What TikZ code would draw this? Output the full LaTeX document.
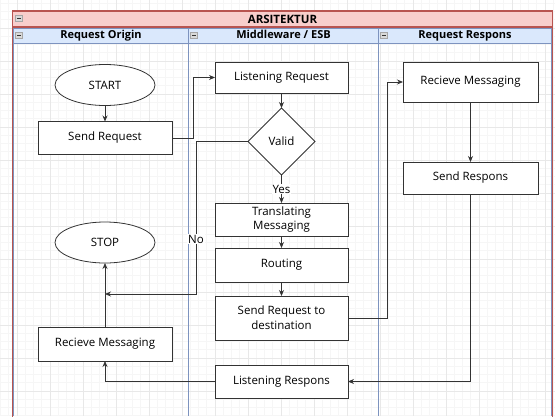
\documentclass[tikz,border=0pt]{standalone}
\usepackage{fontspec}
\setmainfont{Open Sans}
\usetikzlibrary{positioning}
\usetikzlibrary{arrows.meta}
\usetikzlibrary{shapes.geometric}

\definecolor{pool_line}{HTML}{B85450}
\definecolor{pool_fill}{HTML}{F8CECC}
\definecolor{lane_line}{HTML}{7D93BF}
\definecolor{lane_fill}{HTML}{DAE8FC}
\definecolor{flow_line}{HTML}{333333}

\begin{document}
\begin{tikzpicture}[x=1pt,y=-1pt,>={Stealth[length=6pt,width=5pt]},font=\fontsize{11.5}{14}\selectfont,
	box/.style={rectangle,draw=flow_line,fill=white,line width=0.8pt,minimum width=133pt,outer sep=0pt,align=center,inner sep=2pt},
	term/.style={ellipse,draw=flow_line,fill=white,line width=0.8pt,minimum width=100pt,minimum height=41pt,inner sep=0pt,outer sep=0pt},
	decision/.style={diamond,aspect=1,draw=flow_line,fill=white,line width=0.8pt,minimum size=67pt,inner sep=0pt,outer sep=0pt},
	flow/.style={->,draw=flow_line,line width=0.8pt},
	lbl/.style={fill=white,inner sep=1pt},
	pool_head/.style={draw=pool_line,fill=pool_fill,line width=1.6pt,outer sep=0pt,inner sep=0pt,font=\fontsize{11.5}{13}\selectfont\bfseries},
	lane_head/.style={draw=lane_line,fill=lane_fill,line width=0.8pt,minimum height=15pt,outer sep=0pt,inner sep=0pt,
		text height=8.5pt,text depth=2.5pt,font=\fontsize{11}{13}\selectfont\bfseries},
	minus_box/.style={draw=gray!70,fill=gray!30,minimum width=7pt,minimum height=6pt,inner sep=0pt,
		path picture={\draw[gray!40!black,line width=0.7pt] ([xshift=1.5pt]path picture bounding box.west) -- ([xshift=-1.5pt]path picture bounding box.east);}},
	grid_minor/.style={draw=gray!7,line width=0.6pt},
	grid_major/.style={draw=gray!18,line width=0.7pt}]
	\useasboundingbox (0,0) rectangle (555,416);

	% background grid
	\foreach \i in {0,...,70} \draw[grid_minor] ({-16+8.25*\i},0) -- ++(0,416);
	\foreach \i in {0,...,52} \draw[grid_minor] (0,{-5+8.25*\i}) -- ++(555,0);
	\foreach \i in {0,...,17} \draw[grid_major] ({-16+33*\i},0) -- ++(0,416);
	\foreach \i in {0,...,13} \draw[grid_major] (0,{-5+33*\i}) -- ++(555,0);

	% pool and lanes
	\node [pool_head,minimum width=540pt,minimum height=16pt] at (282.5,19) (pool_title) {ARSITEKTUR};
	\node [lane_head,minimum width=175pt] at (101,35.5) (lane_origin) {Request Origin};
	\node [lane_head,minimum width=190pt,right=0pt of lane_origin] (lane_esb) {Middleware / ESB};
	\node [lane_head,minimum width=173pt,right=0pt of lane_esb] (lane_resp) {Request Respons};
	\draw [lane_line,line width=0.8pt] (lane_origin.south west) -- (lane_origin.south west |- 0,416);
	\draw [lane_line,line width=0.8pt] (lane_esb.south west) -- (lane_esb.south west |- 0,416);
	\draw [lane_line,line width=0.8pt] (lane_resp.south west) -- (lane_resp.south west |- 0,416);
	\draw [lane_line,line width=0.8pt] (lane_resp.south east) -- (lane_resp.south east |- 0,416);
	\draw [pool_line,line width=1.6pt] (pool_title.south west) -- (pool_title.south west |- 0,417);
	\draw [pool_line,line width=1.6pt] (pool_title.south east) -- (pool_title.south east |- 0,417);
	\node [minus_box] at (19,18) (minus_pool) {};
	\node [minus_box] at (19,35.5) (minus_origin) {};
	\node [minus_box] at (194,35.5) (minus_esb) {};
	\node [minus_box] at (384,35.5) (minus_resp) {};

	% Request Origin
	\node [term] at (105,85) (start) {START};
	\node [box,minimum width=134pt,minimum height=33pt,below=16pt of start] (send_req) {Send Request};
	\node [term] at (105,242.5) (stop) {STOP};
	\node [box,minimum width=134pt,minimum height=34pt,below=64pt of stop] (recv_msg_l) {Recieve Messaging};

	% Middleware / ESB
	\node [box,minimum height=31pt] at (281.5,77.5) (listen_req) {Listening Request};
	\node [decision,below=15pt of listen_req] (valid) {Valid};
	\node [box,minimum height=33pt,below=28pt of valid,font=\fontsize{11.5}{13.5}\selectfont] (translate) {Translating\\Messaging};
	\node [box,minimum height=34pt,below=12pt of translate] (routing) {Routing};
	\node [box,minimum height=44pt,below=14pt of routing,font=\fontsize{11.5}{15}\selectfont] (send_dest) {Send Request to\\destination};
	\node [box,minimum height=33pt,below=25pt of send_dest] (listen_resp) {Listening Respons};

	% Request Respons
	\node [box,minimum width=135pt,minimum height=40pt] at (470.5,82) (recv_msg_r) {Recieve Messaging};
	\node [box,minimum width=135pt,minimum height=32pt,below=60pt of recv_msg_r] (send_resp) {Send Respons};

	% connectors
	\coordinate (stop_join) at (105,294);
	\draw [flow] (start) -- (send_req);
	\draw [flow] (send_req.east) -- ++(21,0) |- (listen_req.west);
	\draw [flow] (listen_req) -- (valid);
	\draw [flow] (valid.south) -- node [lbl] {Yes} (translate.north);
	\draw [flow] (valid.west) -- ++(-52,0) |- node [lbl,pos=0.32] {No} (stop_join);
	\draw [flow] (translate) -- (routing);
	\draw [flow] (routing) -- (send_dest);
	\draw [flow] (send_dest.east) -- ++(39,0) |- (recv_msg_r.west);
	\draw [flow] (recv_msg_r) -- (send_resp);
	\draw [flow] (send_resp.south) |- (listen_resp.east);
	\draw [flow] (listen_resp.west) -| (recv_msg_l.south);
	\draw [flow] (recv_msg_l) -- (stop);
\end{tikzpicture}
\end{document}
